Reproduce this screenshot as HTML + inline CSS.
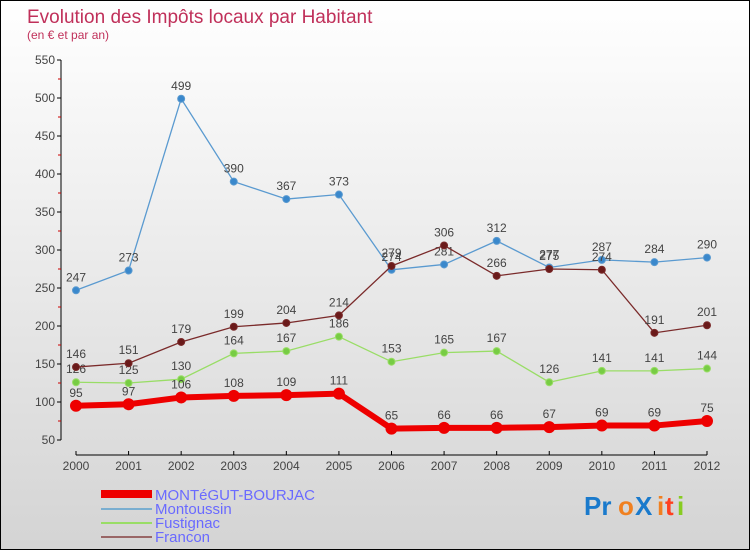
<!DOCTYPE html>
<html><head><meta charset="utf-8"><style>
body{margin:0}
#c{width:748px;height:548px;border:1px solid #000;background:linear-gradient(#fff,#d4d4d4);position:relative;font-family:"Liberation Sans",sans-serif;overflow:hidden}
</style></head><body>
<div id="c">
<svg width="748" height="548" id="svg">
<text x="26" y="22" font-size="19" fill="#c0305a">Evolution des Impôts locaux par Habitant</text>
<text x="26" y="38" font-size="12" fill="#c0305a">(en € et par an)</text>
<g id="axes"></g><g id="series"></g>
<g>
<rect x="100" y="489" width="51" height="8" fill="#e00"/>
<text x="154" y="499" font-size="15" fill="#6a6aff">MONTéGUT-BOURJAC</text>
<rect x="100" y="507" width="51" height="2" fill="#7aaed0"/>
<text x="154" y="513" font-size="15" fill="#6a6aff">Montoussin</text>
<rect x="100" y="521" width="51" height="2" fill="#99dd66"/>
<text x="154" y="527" font-size="15" fill="#6a6aff">Fustignac</text>
<rect x="100" y="535" width="51" height="2" fill="#996666"/>
<text x="154" y="541" font-size="15" fill="#6a6aff">Francon</text>
</g>
<g font-size="26" font-weight="bold">
<text x="583" y="514" fill="#1a7acc">Pr</text><text x="617" y="514" fill="#f08020">o</text><text x="634" y="514" fill="#1a7acc">X</text><text x="656" y="514" fill="#f08020">i</text><text x="664" y="514" fill="#ff4020">t</text><text x="676" y="514" fill="#88cc22">i</text>
</g>
</svg></div>
<script>
const years=["2000","2001","2002","2003","2004","2005","2006","2007","2008","2009","2010","2011","2012"];
const yTicks=[50,100,150,200,250,300,350,400,450,500,550];
const montegut=[95,97,106,108,109,111,65,66,66,67,69,69,75];
const montoussin=[247,273,499,390,367,373,274,281,312,277,287,284,290];
const fustignac=[126,125,130,164,167,186,153,165,167,126,141,141,144];
const francon=[146,151,179,199,204,214,279,306,266,275,274,191,201];
const NS="http://www.w3.org/2000/svg";
const X=i=>75+i*(631/12);
const Y=v=>439-(v-50)*(380/500);
function mk(t,a,p){const e=document.createElementNS(NS,t);for(const k in a)e.setAttribute(k,a[k]);p.appendChild(e);return e;}
const ax=document.getElementById('axes');
let l=mk('line',{x1:60,y1:Y(550),x2:60,y2:Y(50),stroke:'#000'},ax);


l=mk('line',{x1:75,y1:454,x2:706,y2:454,stroke:'#000'},ax);


yTicks.forEach((v,i)=>{mk('line',{x1:56,x2:60,y1:Y(v),y2:Y(v),stroke:'#000'},ax);
if(i<yTicks.length-1)mk('line',{x1:57,x2:60,y1:Y(v+25),y2:Y(v+25),stroke:'#c00'},ax);
const t=mk('text',{x:54,y:Y(v)+4,'font-size':12,fill:'#444','text-anchor':'end'},ax);t.textContent=v;

});
years.forEach((y,i)=>{mk('line',{x1:X(i),x2:X(i),y1:450,y2:454,stroke:'#000'},ax);
const t=mk('text',{x:X(i),y:469,'font-size':12,fill:'#444','text-anchor':'middle'},ax);t.textContent=y;

});
const sg=document.getElementById('series');
function series(name,data,col,w,r,dot){
const g=mk('g',{},sg);


const pl=mk('polyline',{points:data.map((v,i)=>X(i)+','+Y(v)).join(' '),fill:'none',stroke:col,'stroke-width':w},g);


data.forEach((v,i)=>{const c=mk('circle',{cx:X(i),cy:Y(v),r:r,fill:dot,stroke:col,'stroke-width':1},g);


const t=mk('text',{x:X(i),y:Y(v)-9,'font-size':12,fill:'#444','text-anchor':'middle'},g);t.textContent=v;

});}
series('montoussin',montoussin,'#5a9ad0',1.3,3.5,'#3a88cc');
series('fustignac',fustignac,'#99dd66',1.3,3.5,'#77cc44');
series('francon',francon,'#7a2a2a',1.3,3.5,'#6a1a1a');
series('montegut',montegut,'#ee0000',6,5.5,'#ee0000');
</script></body></html>
